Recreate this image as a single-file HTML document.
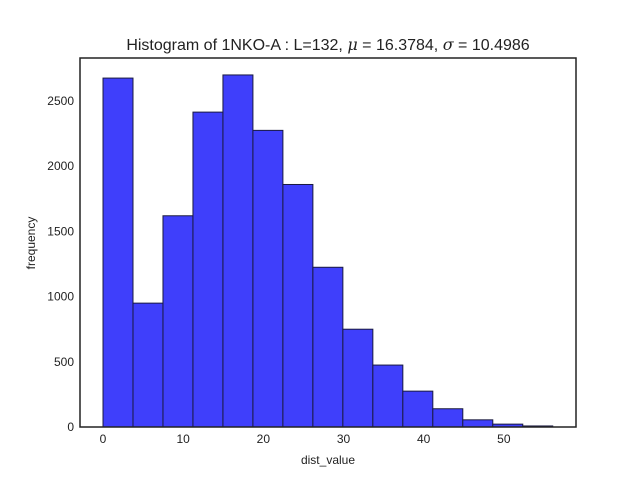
<!DOCTYPE html>
<html><head><meta charset="utf-8"><style>
body{margin:0;background:#fff;}
svg{display:block;font-family:"Liberation Sans","DejaVu Sans",sans-serif;}
</style></head><body>
<svg id="chart" width="640" height="480">
<rect x="0" y="0" width="640" height="480" fill="#fff"/>
<text x="328" y="50" text-anchor="middle" font-size="16" fill="#222">Histogram of 1NKO-A : L=132, <tspan font-style="italic" font-family="DejaVu Serif, serif">μ</tspan> = 16.3784, <tspan font-style="italic" font-family="DejaVu Serif, serif">σ</tspan> = 10.4986</text>
<g id="bars"></g>
<g id="xticks"></g>
<g id="yticks"></g>
<rect x="80" y="58" width="496" height="369" fill="none" stroke="#222" stroke-width="1.5"/>
<text x="328" y="464" text-anchor="middle" font-size="12" fill="#222">dist_value</text>
<text x="35" y="243" text-anchor="middle" font-size="12" fill="#222" transform="rotate(-90 35 243)">frequency</text>
</svg>
<script>
const binStart = 0;
const binWidth = 3.74;
const counts = [2676, 950, 1620, 2415, 2700, 2275, 1860, 1225, 750, 475, 275, 140, 55, 22, 8];
const xTicks = [0, 10, 20, 30, 40, 50];
const yTicks = [0, 500, 1000, 1500, 2000, 2500];
const xMin = -2.87, xMax = 59.0, yMin = 0, yMax = 2830;
const L = 80, R = 576, T = 58, B = 427;
const NS = "http://www.w3.org/2000/svg";
function xs(v){ return L + (v - xMin) / (xMax - xMin) * (R - L); }
function ys(v){ return B - (v - yMin) / (yMax - yMin) * (B - T); }
const bars = document.getElementById('bars');
counts.forEach((c, i) => {
  const x0 = xs(binStart + i * binWidth), x1 = xs(binStart + (i + 1) * binWidth);
  const r = document.createElementNS(NS, 'rect');
  r.setAttribute('x', x0); r.setAttribute('y', ys(c));
  r.setAttribute('width', x1 - x0); r.setAttribute('height', ys(0) - ys(c));
  r.setAttribute('fill', '#3f3ffb'); r.setAttribute('stroke', '#1a1a40'); r.setAttribute('stroke-width', '1');
  
  
  bars.appendChild(r);
});
const xg = document.getElementById('xticks');
xTicks.forEach(v => {
  const t = document.createElementNS(NS, 'text');
  t.setAttribute('x', xs(v)); t.setAttribute('y', 443);
  t.setAttribute('text-anchor', 'middle'); t.setAttribute('font-size', '12'); t.setAttribute('fill', '#222');
  t.textContent = v;
  
  
  xg.appendChild(t);
});
const yg = document.getElementById('yticks');
yTicks.forEach(v => {
  const t = document.createElementNS(NS, 'text');
  t.setAttribute('x', 74); t.setAttribute('y', ys(v) + 4);
  t.setAttribute('text-anchor', 'end'); t.setAttribute('font-size', '12'); t.setAttribute('fill', '#222');
  t.textContent = v;
  
  
  yg.appendChild(t);
});
</script>
</body></html>
